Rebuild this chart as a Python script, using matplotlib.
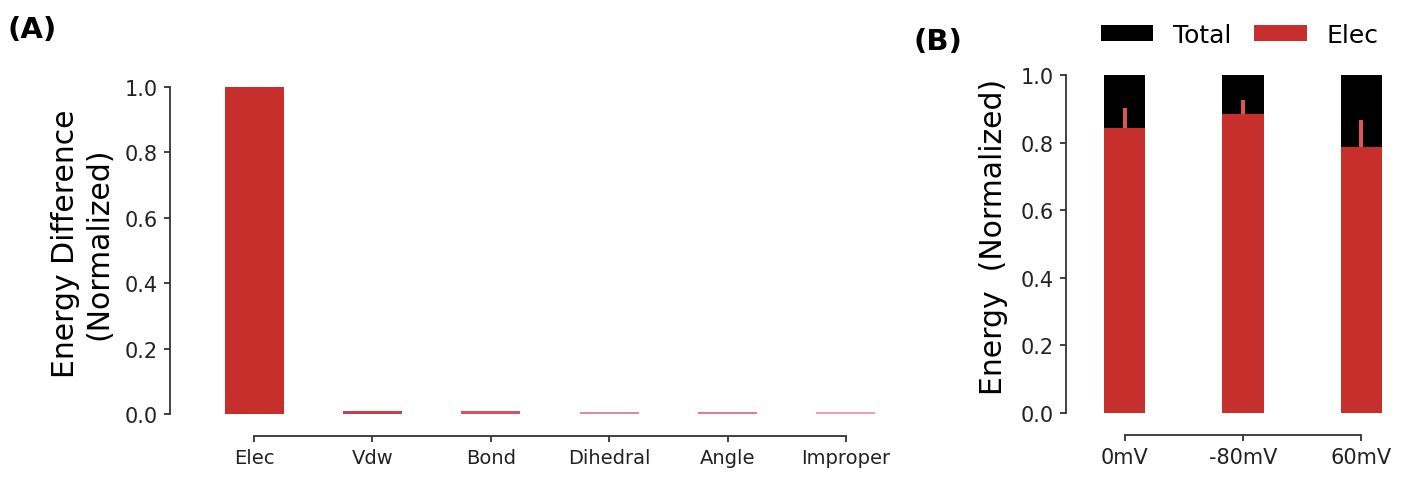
import numpy as np
import matplotlib.pyplot as plt

# Panel A: normalized energy difference per term
terms = ['Elec', 'Vdw', 'Bond', 'Dihedral', 'Angle', 'Improper']
term_diff = [1.0, 0.009, 0.008, 0.007, 0.007, 0.006]
term_colors = ['#c62f2b', '#c8404c', '#d65462', '#d39393', '#e07f88', '#eba3a6']

# Panel B: electrostatic share of total energy at each voltage
voltages = ['0mV', '-80mV', '60mV']
total_energy = [1.0, 1.0, 1.0]
elec_energy = [0.843, 0.884, 0.787]
elec_err = [0.058, 0.042, 0.080]

RED = '#c62f2b'
SPINE = '#333333'

plt.rcParams['font.family'] = 'DejaVu Sans'

fig = plt.figure(figsize=(14.11, 4.81), dpi=100)
W, H = 1411, 481


def px_axes(left, top, right, bottom):
    return fig.add_axes([left / W, 1 - bottom / H, (right - left) / W, (bottom - top) / H])


def style(ax, xmax, xsize):
    for s in ['top', 'right']:
        ax.spines[s].set_visible(False)
    for s in ['left', 'bottom']:
        ax.spines[s].set_position(('outward', 15.8))
        ax.spines[s].set_color(SPINE)
        ax.spines[s].set_linewidth(1.3)
    ax.spines['left'].set_bounds(0, 1)
    ax.spines['bottom'].set_bounds(0, xmax)
    ax.tick_params(length=4, width=1.3, color=SPINE, labelcolor='#222222', pad=5)
    ax.tick_params(axis='x', labelsize=xsize)
    ax.tick_params(axis='y', labelsize=15)
    ax.set_yticks(np.arange(0, 1.01, 0.2))
    ax.set_ylim(0, 1.05)


# (A)
axA = px_axes(192, 71.7, 908, 415)
x = np.arange(len(terms))
axA.bar(x, term_diff, width=0.5, color=term_colors)
axA.set_xticks(x)
axA.set_xticklabels(terms)
axA.set_xlim(-0.525, 5.525)
style(axA, 5, 14)
axA.set_ylabel('Energy Difference\n(Normalized)', fontsize=21.5, linespacing=1.2)
axA.yaxis.set_label_coords(-0.11, 0.5)

# (B) -- error bars sit between the two bar layers so only the part over Total shows
axB = px_axes(1088, 59, 1398, 414)
xb = np.arange(len(voltages))
axB.bar(xb, total_energy, width=0.35, color='black', label='Total', zorder=1)
axB.errorbar(xb, elec_energy, yerr=elec_err, fmt='none', ecolor='#d45a5a',
             elinewidth=3, capsize=0, zorder=1.5)
axB.bar(xb, elec_energy, width=0.35, color=RED, label='Elec', zorder=2)
axB.set_xticks(xb)
axB.set_xticklabels(voltages)
axB.set_xlim(-0.31, 2.31)
style(axB, 2, 15)
axB.set_ylabel('Energy  (Normalized)', fontsize=21.5)
axB.yaxis.set_label_coords(-0.258, 0.5)
axB.legend(loc='center', bbox_to_anchor=(0.49, 1.065), ncol=2, frameon=False,
           fontsize=18, handlelength=2.1, handleheight=0.6, handletextpad=0.8,
           columnspacing=0.9)

fig.text(8 / W, 1 - 30 / H, '(A)', fontsize=21, fontweight='bold', va='center')
fig.text(913 / W, 1 - 42 / H, '(B)', fontsize=21, fontweight='bold', va='center')

fig.savefig('out.png', dpi=100)
